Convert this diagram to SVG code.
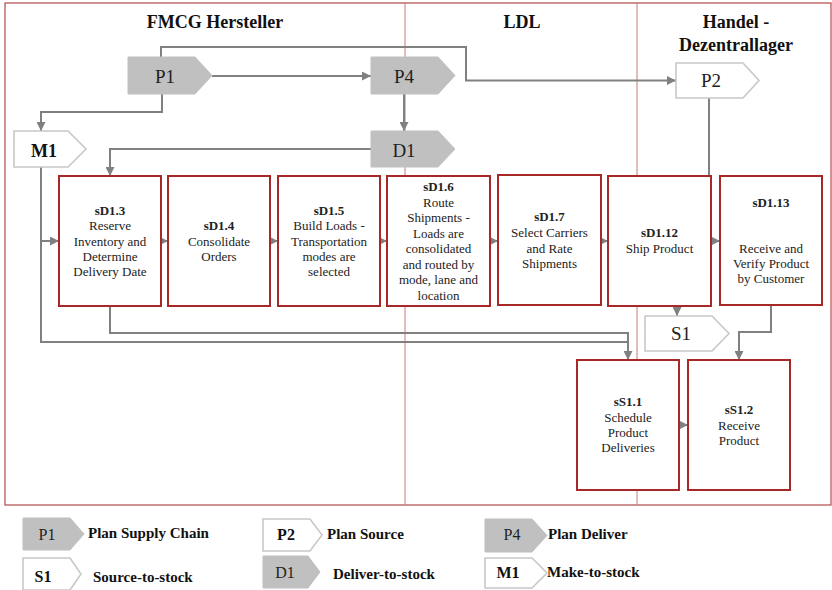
<svg xmlns="http://www.w3.org/2000/svg" width="832" height="590" viewBox="0 0 832 590">
<style>
text{font-family:"Liberation Serif","Times New Roman",serif}
.title{font-size:18px;font-weight:bold;text-anchor:middle;fill:#111}
.box{fill:#fff;stroke:#a82828;stroke-width:2}
.bt{font-size:13px;text-anchor:middle;fill:#222}
.b{font-weight:bold}
.gray{fill:#c0c0c0;stroke:#c0c0c0;stroke-width:1}
.white{fill:#fff;stroke:#c8c8c8;stroke-width:1.6}
.pl{font-size:19px;text-anchor:middle;fill:#222}
.plb{font-size:18px;font-weight:bold;text-anchor:middle;fill:#111}
.ll{font-size:16px;text-anchor:middle;fill:#222}
.llb{font-size:16px;font-weight:bold;text-anchor:middle;fill:#111}
.ld{font-size:15px;font-weight:bold;fill:#111}
.conn path{fill:none;stroke:#808080;stroke-width:2}
.lane{stroke:#c87878;stroke-width:1}
</style>
<defs>
<marker id="ah" viewBox="0 0 10 10" refX="10" refY="5" markerWidth="9" markerHeight="9" markerUnits="userSpaceOnUse" orient="auto">
<path d="M0,0 L10,5 L0,10 z" fill="#808080"/>
</marker>
</defs>
<rect x="0" y="0" width="832" height="590" fill="#fff"/>
<g id="frame">
<rect x="5" y="3" width="826" height="502" fill="none" stroke="#b04848" stroke-width="1.2"/>
<line class="lane" x1="405" y1="3" x2="405" y2="505"/>
<line class="lane" x1="637" y1="3" x2="637" y2="505"/>
<text class="title" x="215" y="28">FMCG Hersteller</text>
<text class="title" x="522" y="28">LDL</text>
<text class="title" x="736" y="28">Handel -</text>
<text class="title" x="736" y="51">Dezentrallager</text>
</g>
<g class="conn" id="connectors">
<path d="M161,57 V47 H466 V80.5 H676" marker-end="url(#ah)"/>
<path d="M212,76 H371" marker-end="url(#ah)"/>
<path d="M162,94 V112 H41 V131" marker-end="url(#ah)"/>
<path d="M404,94 V131" marker-end="url(#ah)"/>
<path d="M371,149 H110 V176" marker-end="url(#ah)"/>
<path d="M41,167 V342 H628"/>
<path d="M41,241 H59" marker-end="url(#ah)"/>
<path d="M110,306 V333 H628 V360" marker-end="url(#ah)"/>
<path d="M160,241 H168" marker-end="url(#ah)"/>
<path d="M269,241 H278" marker-end="url(#ah)"/>
<path d="M379,241 H387" marker-end="url(#ah)"/>
<path d="M489,241 H498" marker-end="url(#ah)"/>
<path d="M600,241 H608" marker-end="url(#ah)"/>
<path d="M710,241 H720" marker-end="url(#ah)"/>
<path d="M709,98 V176"/>
<path d="M677,305 V316" marker-end="url(#ah)"/>
<path d="M771,305 V332 H739 V360" marker-end="url(#ah)"/>
<path d="M678,425 H688" marker-end="url(#ah)"/>
</g>
<g id="P1"><path class="gray" d="M128,57 H195 L212,75.5 L195,94 H128 Z"/><text class="pl" x="165" y="83">P1</text></g>
<g id="P4"><path class="gray" d="M371,57 H438 L455,75.5 L438,94 H371 Z"/><text class="pl" x="404" y="83">P4</text></g>
<g id="D1"><path class="gray" d="M371,131 H438 L455,149 L438,167 H371 Z"/><text class="pl" x="404" y="157">D1</text></g>
<g id="M1"><path class="white" d="M14,131 H68 L86,149 L68,167 H14 Z"/><text class="plb" x="44" y="157">M1</text></g>
<g id="P2"><path class="white" d="M676,63 H743 L759,80.5 L743,98 H676 Z"/><text class="pl" x="711" y="87">P2</text></g>
<g id="S1"><path class="white" d="M645,316 H712 L729,333.5 L712,351 H645 Z"/><text class="pl" x="681" y="340">S1</text></g>
<g id="sD1.3"><rect class="box" x="59" y="176" width="102" height="130"/>
<text class="bt"><tspan class="b" x="110" y="215">sD1.3</tspan><tspan x="110" y="230">Reserve</tspan><tspan x="110" y="245.5">Inventory and</tspan><tspan x="110" y="261">Determine</tspan><tspan x="110" y="276">Delivery Date</tspan></text></g>
<g id="sD1.4"><rect class="box" x="168" y="176" width="102" height="130"/>
<text class="bt"><tspan class="b" x="219" y="230">sD1.4</tspan><tspan x="219" y="245.5">Consolidate</tspan><tspan x="219" y="261">Orders</tspan></text></g>
<g id="sD1.5"><rect class="box" x="278" y="176" width="102" height="130"/>
<text class="bt"><tspan class="b" x="329" y="215">sD1.5</tspan><tspan x="329" y="230">Build Loads -</tspan><tspan x="329" y="245.5">Transportation</tspan><tspan x="329" y="261">modes are</tspan><tspan x="329" y="276">selected</tspan></text></g>
<g id="sD1.6"><rect class="box" x="387" y="176" width="103" height="130"/>
<text class="bt"><tspan class="b" x="438.5" y="191">sD1.6</tspan><tspan x="438.5" y="206.5">Route</tspan><tspan x="438.5" y="222">Shipments -</tspan><tspan x="438.5" y="237.5">Loads are</tspan><tspan x="438.5" y="253">consolidated</tspan><tspan x="438.5" y="268.5">and routed by</tspan><tspan x="438.5" y="284">mode, lane and</tspan><tspan x="438.5" y="299.5">location</tspan></text></g>
<g id="sD1.7"><rect class="box" x="498" y="175" width="103" height="130"/>
<text class="bt"><tspan class="b" x="549.5" y="221">sD1.7</tspan><tspan x="549.5" y="237">Select Carriers</tspan><tspan x="549.5" y="252.5">and Rate</tspan><tspan x="549.5" y="267.5">Shipments</tspan></text></g>
<g id="sD1.12"><rect class="box" x="608" y="176" width="103" height="130"/>
<text class="bt"><tspan class="b" x="659.5" y="237">sD1.12</tspan><tspan x="659.5" y="253">Ship Product</tspan></text></g>
<g id="sD1.13"><rect class="box" x="720" y="176" width="102" height="129"/>
<text class="bt"><tspan class="b" x="771" y="207">sD1.13</tspan><tspan x="771" y="252.5">Receive and</tspan><tspan x="771" y="268">Verify Product</tspan><tspan x="771" y="283">by Customer</tspan></text></g>
<g id="sS1.1"><rect class="box" x="577" y="360" width="102" height="130"/>
<text class="bt"><tspan class="b" x="628" y="406">sS1.1</tspan><tspan x="628" y="422">Schedule</tspan><tspan x="628" y="437">Product</tspan><tspan x="628" y="452">Deliveries</tspan></text></g>
<g id="sS1.2"><rect class="box" x="688" y="360" width="102" height="130"/>
<text class="bt"><tspan class="b" x="739" y="414">sS1.2</tspan><tspan x="739" y="430">Receive</tspan><tspan x="739" y="445">Product</tspan></text></g>
<g id="legend">
<g id="leg-P1"><path class="gray" d="M23,518 H70 L84,534 L70,550 H23 Z"/><text class="ll" x="47" y="540">P1</text><text class="ld" x="88" y="538">Plan Supply Chain</text></g>
<g id="leg-S1"><path class="white" d="M23,558 H70 L81,574 L70,590 H23 Z"/><text class="llb" x="43" y="582">S1</text><text class="ld" x="93" y="582">Source-to-stock</text></g>
<g id="leg-P2"><path class="white" d="M263,519 H310 L322,535 L310,551 H263 Z"/><text class="llb" x="286" y="540">P2</text><text class="ld" x="327" y="539">Plan Source</text></g>
<g id="leg-D1"><path class="gray" d="M263,556 H308 L320,572 L308,588 H263 Z"/><text class="ll" x="285" y="578">D1</text><text class="ld" x="333" y="579">Deliver-to-stock</text></g>
<g id="leg-P4"><path class="gray" d="M485,519 H532 L547,535.5 L532,552 H485 Z"/><text class="ll" x="512" y="540">P4</text><text class="ld" x="548" y="539">Plan Deliver</text></g>
<g id="leg-M1"><path class="white" d="M485,558 H532 L547,573 L532,588 H485 Z"/><text class="llb" x="508" y="578">M1</text><text class="ld" x="547" y="577">Make-to-stock</text></g>
</g>
</svg>
